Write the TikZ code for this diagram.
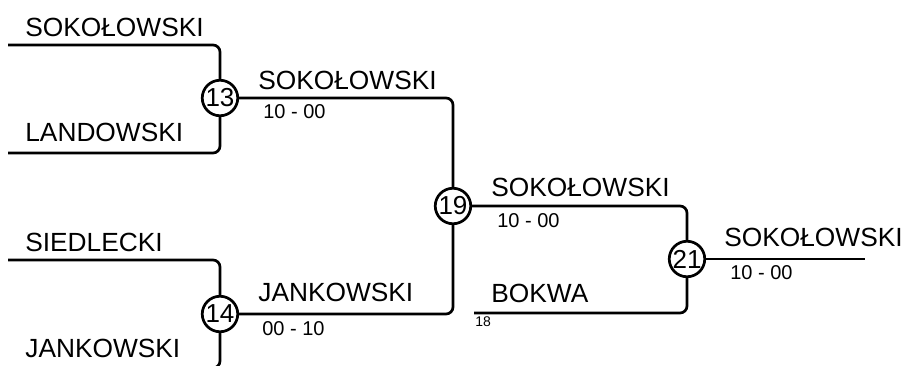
\documentclass[tikz,border=0pt]{standalone}
\usepackage{fontspec}
\setmainfont{Liberation Sans}
\begin{document}
\begin{tikzpicture}[x=1pt, y=-1pt, line width=2.7pt,
		match/.style={draw, circle, minimum size=35.5pt, inner sep=0pt, fill=white, font=\fontsize{26}{26}\selectfont},
		player/.style={anchor=west, inner sep=0pt, font=\fontsize{26.3}{26}\selectfont},
		score/.style={anchor=west, inner sep=0pt, font=\fontsize{20}{20}\selectfont},
		bar/.style={rounded corners=7pt}]
		\useasboundingbox (0,0) rectangle (906,365);

		% matches
		\node[match] (m13) at (220,98) {13};
		\node[match] (m14) at (220,314) {14};
		\node[match] (m19) at (453,206) {19};
		\node[match] (m21) at (687,259) {21};

		% free ends
		\coordinate (p1) at (8,45);
		\coordinate (p2) at (8,153);
		\coordinate (p3) at (8,260);
		\coordinate (p4) at (8,368);
		\coordinate (p5) at (474,313);
		\coordinate (win) at (865,259);

		\draw[bar] (p1) -| (m13);
		\draw[bar] (p2) -| (m13);
		\draw[bar] (p3) -| (m14);
		\draw[bar] (p4) -| (m14);
		\draw[bar] (m13) -| (m19);
		\draw[bar] (m14) -| (m19);
		\draw[bar] (m19) -| (m21);
		\draw[bar] (p5) -| (m21);
		\draw (m21) -- (win);

		% names
		\node[player] (n1) at (24,27) {SOKOŁOWSKI};
		\node[player] (n2) at (24,132) {LANDOWSKI};
		\node[player] (n3) at (24,242) {SIEDLECKI};
		\node[player] (n4) at (24,348) {JANKOWSKI};
		\node[player] (n13) at (257,80) {SOKOŁOWSKI};
		\node[player] (n14) at (257,292) {JANKOWSKI};
		\node[player] (n19) at (490,187) {SOKOŁOWSKI};
		\node[player] (n18) at (490,293) {BOKWA};
		\node[player] (n21) at (723,237) {SOKOŁOWSKI};

		% scores
		\node[score] (r13) at (262,112) {10 - 00};
		\node[score] (r14) at (261,329) {00 - 10};
		\node[score] (r19) at (496,221) {10 - 00};
		\node[score] (r21) at (729,273) {10 - 00};
		\node[score, font=\fontsize{14}{14}\selectfont] (f18) at (474,322) {18};
	\end{tikzpicture}
\end{document}
